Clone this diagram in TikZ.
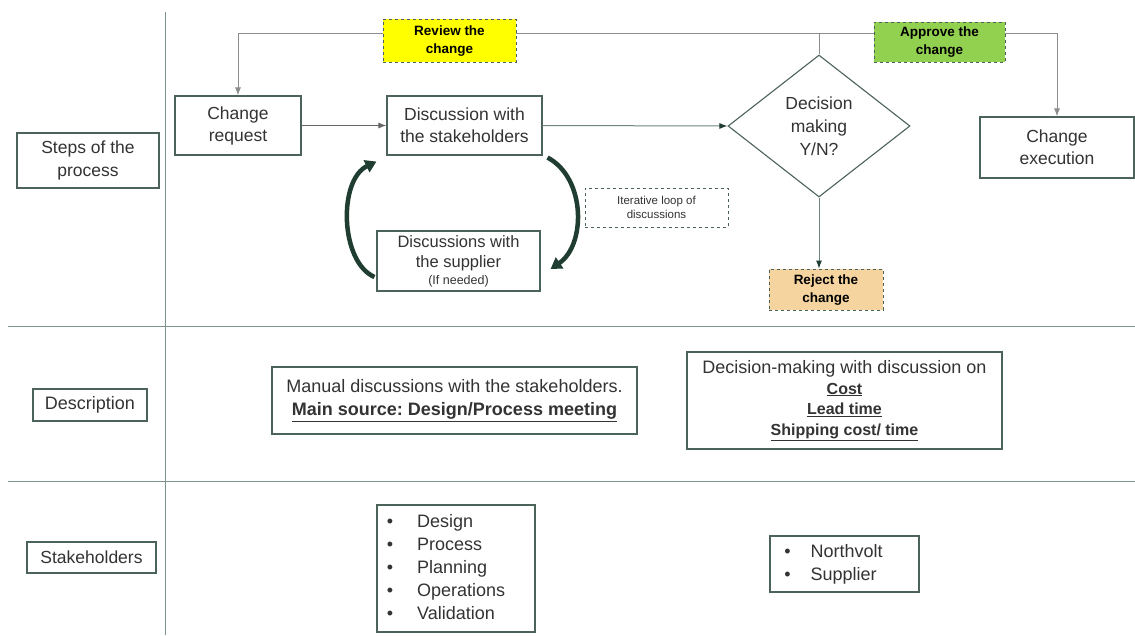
\documentclass[tikz,border=0pt]{standalone}
\usepackage{fontspec}
\setmainfont{Liberation Sans}
\frenchspacing
\usetikzlibrary{shapes.geometric,arrows.meta,calc}
\definecolor{bord}{HTML}{4B6359}
\definecolor{txt}{HTML}{333333}
\definecolor{gridc}{HTML}{7D948A}
\definecolor{topc}{HTML}{8C8C8C}
\definecolor{flowc}{HTML}{6F877D}
\definecolor{loopc}{HTML}{1F3D31}
\definecolor{yel}{HTML}{FFFF00}
\definecolor{grn}{HTML}{92D050}
\definecolor{tan}{HTML}{F5D49F}
\newcommand{\fs}[2]{\fontsize{#1}{#2}\selectfont}
\tikzset{
  box/.style={draw=bord, line width=1.1pt, fill=white, align=center, inner sep=0pt, text=txt},
  tagbox/.style={draw=bord, dashed, line width=0.9pt, align=center, inner sep=0pt, text=black, font=\fs{13.5}{18}\bfseries, text depth=2pt},
  gridline/.style={draw=gridc, line width=0.9pt},
  topline/.style={draw=topc, line width=1pt},
  flow/.style={draw=flowc, line width=1pt},
  loopar/.style={draw=loopc, line width=4.5pt, -{Triangle[length=11pt,width=13pt]}},
}
\begin{document}
\begin{tikzpicture}[x=1pt,y=-1pt]
\useasboundingbox[fill=white] (0,0) rectangle (1135,635);
% grid
\draw[gridline] (165,12) -- (165,635);
\draw[gridline] (8,326) -- (1135,326);
\draw[gridline] (8,481) -- (1135,481);
% row labels
\node[box, minimum width=142pt, minimum height=55pt, font=\fs{17.5}{23}] (steps) at (88,160.5) {Steps of the\\process};
\node[box, minimum width=114pt, minimum height=32pt, font=\fs{18}{23}] (desc) at (90,405) {Description};
\node[box, minimum width=129pt, minimum height=31pt, font=\fs{17.5}{23}] (stake) at (91.5,557.5) {Stakeholders};
% process nodes
\node[box, minimum width=126pt, minimum height=59pt, font=\fs{17.5}{22}] (cr) at (238,125.5) {Change\\request};
\node[box, minimum width=155pt, minimum height=59pt, font=\fs{17.5}{22}] (disc) at (464.5,125.5) {Discussion with\\the stakeholders};
\node[box, diamond, minimum width=182pt, minimum height=142pt, font=\fs{17.5}{23}] (dec) at (819,126) {Decision\\making\\Y/N?};
\node[box, minimum width=154pt, minimum height=61pt, font=\fs{17.5}{22}] (exec) at (1057,147.5) {Change\\execution};
\node[box, minimum width=163pt, minimum height=60pt, font=\fs{16.5}{20}] (supp) at (458.5,261) {Discussions with\\the supplier\\[-3pt]{\fs{12.5}{14}(If needed)}};
\node[draw=bord, dashed, line width=0.8pt, minimum width=143pt, minimum height=39pt, align=center, inner sep=0pt, text=txt, font=\fs{11.5}{14}] (iter) at (656.5,207.5) {Iterative loop of\\discussions};
% connectors
\draw[topline] (dec.north) -- ++(0,-21) coordinate (tj);
\draw[topline, -{Latex[length=8pt,width=6pt]}] (tj) -| (cr.north);
\draw[topline, -{Latex[length=8pt,width=6pt]}] (tj) -| (exec.north);
\draw[draw=gray!80!black, line width=1pt, -{Latex[length=8pt,width=6pt]}] (cr.east) -- (disc.west);
\draw[flow, -{Latex[length=8pt,width=6pt,color=loopc]}] (disc.east) -- (dec.west);
\node[tagbox, fill=tan, minimum width=114pt, minimum height=41pt] (rej) at (826,289.5) {Reject the\\change};
\draw[flow, -{Latex[length=8pt,width=6pt,color=loopc]}] (dec.south) -- (dec.south |- rej.north);
% tags on the top line
\node[tagbox, fill=yel, minimum width=133pt, minimum height=43pt] (rev) at (449.5,40.5) {Review the\\change};
\node[tagbox, fill=grn, minimum width=131pt, minimum height=40pt] (app) at (939.5,42) {Approve the\\change};
% loop arrows
\draw[loopar] ($(supp.west)+(-2,16)$) .. controls (340,262) and (338,180) .. ($(disc.south west)+(-10,6)$);
\draw[loopar] ($(disc.south east)+(5,2)$) .. controls (586,178) and (586,245) .. ($(supp.east)+(10,8)$);
% description row
\node[box, minimum width=365pt, minimum height=67pt, font=\fs{18}{23}] (man) at (454.5,400.5) {Manual discussions with the stakeholders.\\{\bfseries\underline{Main source: Design/Process meeting}}};
\node[box, minimum width=315pt, minimum height=97pt, font=\fs{18}{20.5}] (ddesc) at (844.5,400.5) {Decision-making with discussion on\\{\fs{16}{20.5}\bfseries\underline{Cost}}\\{\fs{16}{20.5}\bfseries\underline{Lead time}}\\{\fs{16}{20.5}\bfseries\underline{Shipping cost/ time}}};
% stakeholders row
\node[box, minimum width=158pt, minimum height=127pt, font=\fs{18}{23}, align=left] (l1) at (456,568.5) {\begin{tabular}{@{}l@{\hspace{24pt}}l@{}}\textbullet & Design\\ \textbullet & Process\\ \textbullet & Planning\\ \textbullet & Operations\\ \textbullet & Validation\end{tabular}\hspace{20pt}};
\node[box, minimum width=149pt, minimum height=56pt, font=\fs{18}{23}, align=left] (l2) at (844.5,564) {\begin{tabular}{@{}l@{\hspace{20pt}}l@{}}\textbullet & Northvolt\\ \textbullet & Supplier\end{tabular}\hspace{22pt}};
\end{tikzpicture}
\end{document}
